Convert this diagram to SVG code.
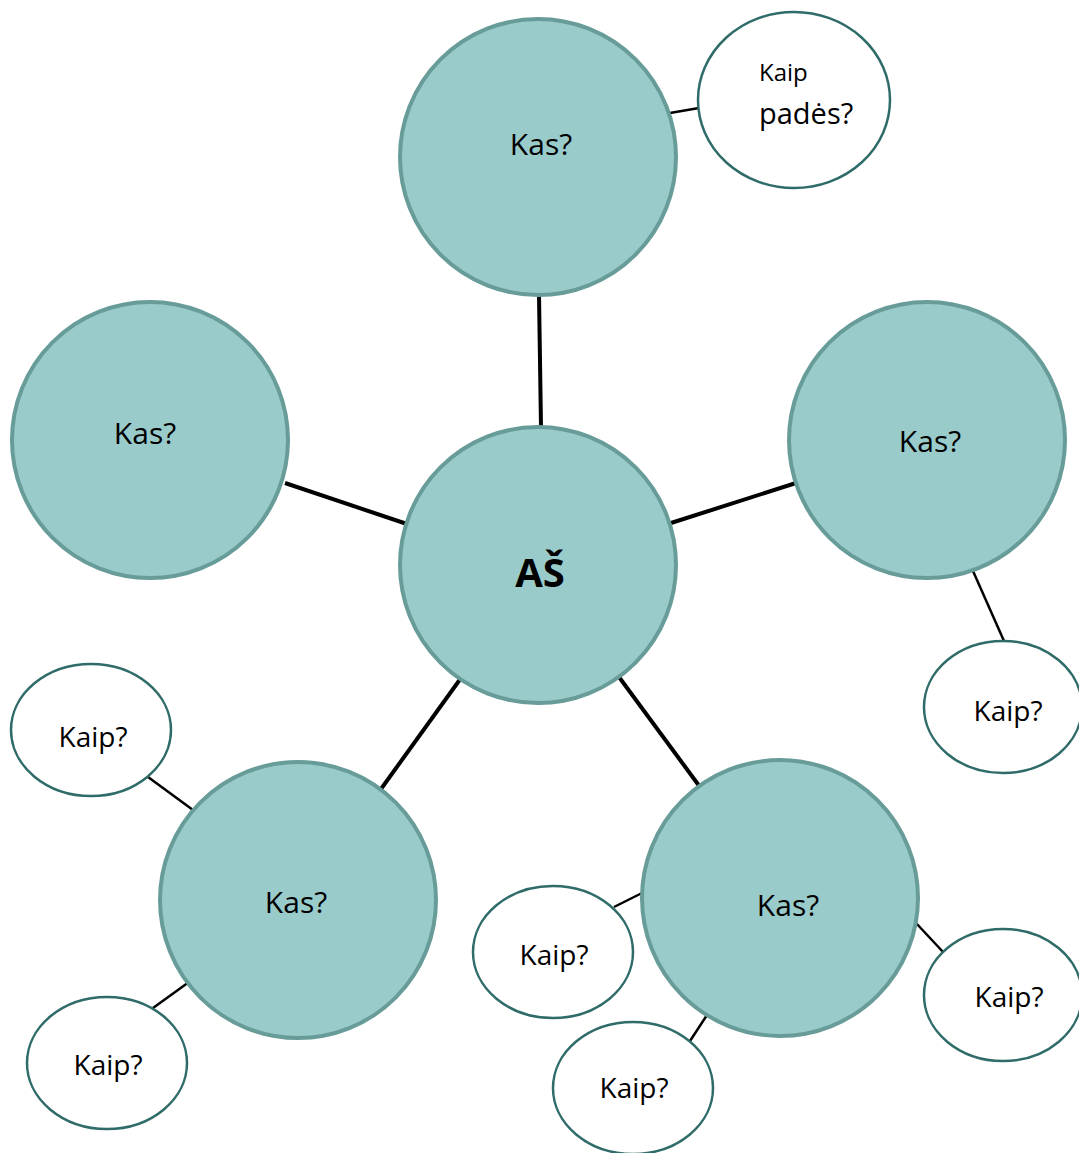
<svg xmlns="http://www.w3.org/2000/svg" width="1079" height="1153" viewBox="0 0 1079 1153">
<style>
.big{fill:#99cbcb;stroke:#679c99;stroke-width:4}
.small{fill:#fff;stroke:#2f6b68;stroke-width:2.5}
.thick{stroke:#000;stroke-width:4;fill:none}
.thin{stroke:#000;stroke-width:2.5;fill:none}
text{font-family:"Open Sans","Noto Sans","Liberation Sans",sans-serif;fill:#000}
.kas{font-size:30px;text-anchor:middle}
.kaip{font-size:28px;text-anchor:middle}
</style>
<rect width="1079" height="1153" fill="#fff"/>
<g id="connectors">
<line class="thick" x1="541" y1="427" x2="539" y2="295"/>
<line class="thick" x1="407" y1="524" x2="285" y2="483"/>
<line class="thick" x1="671" y1="523" x2="796" y2="483"/>
<line class="thick" x1="461" y1="678" x2="381" y2="789"/>
<line class="thick" x1="619" y1="677" x2="700" y2="787"/>
<line class="thin" x1="670" y1="113" x2="699" y2="108"/>
<line class="thin" x1="973" y1="571" x2="1004" y2="641"/>
<line class="thin" x1="148" y1="777" x2="193" y2="810"/>
<line class="thin" x1="153" y1="1008" x2="189" y2="982"/>
<line class="thin" x1="614" y1="907" x2="644" y2="892"/>
<line class="thin" x1="690" y1="1041" x2="707" y2="1015"/>
<line class="thin" x1="916" y1="923" x2="944" y2="953"/>
</g>
<g id="top"><circle class="big" cx="538" cy="157" r="138"/><text class="kas" x="541" y="155">Kas?</text></g>
<g id="left"><circle class="big" cx="150" cy="440" r="138"/><text class="kas" x="145" y="444">Kas?</text></g>
<g id="center"><circle class="big" cx="538" cy="565" r="138"/><text x="540" y="587" font-size="40" font-weight="bold" text-anchor="middle">AŠ</text></g>
<g id="right"><circle class="big" cx="927" cy="440" r="138"/><text class="kas" x="930" y="452">Kas?</text></g>
<g id="bottomleft"><circle class="big" cx="298" cy="900" r="138"/><text class="kas" x="296" y="913">Kas?</text></g>
<g id="bottomright"><circle class="big" cx="780" cy="898" r="138"/><text class="kas" x="788" y="916">Kas?</text></g>
<g id="kaip-pades"><ellipse class="small" cx="794" cy="100" rx="96" ry="88"/><text x="759" y="81" font-size="24">Kaip</text><text x="759" y="124" font-size="29">padės?</text></g>
<g id="kaip-right"><ellipse class="small" cx="1003" cy="707" rx="79" ry="66"/><text class="kaip" x="1008" y="721">Kaip?</text></g>
<g id="kaip-lefttop"><ellipse class="small" cx="91" cy="730" rx="80" ry="66"/><text class="kaip" x="93" y="747">Kaip?</text></g>
<g id="kaip-leftbottom"><ellipse class="small" cx="107" cy="1063" rx="80" ry="66"/><text class="kaip" x="108" y="1075">Kaip?</text></g>
<g id="kaip-br-left"><ellipse class="small" cx="553" cy="952" rx="80" ry="66"/><text class="kaip" x="554" y="965">Kaip?</text></g>
<g id="kaip-br-bottom"><ellipse class="small" cx="633" cy="1088" rx="80" ry="66"/><text class="kaip" x="634" y="1098">Kaip?</text></g>
<g id="kaip-br-right"><ellipse class="small" cx="1003" cy="995" rx="79" ry="66"/><text class="kaip" x="1009" y="1007">Kaip?</text></g>
</svg>
